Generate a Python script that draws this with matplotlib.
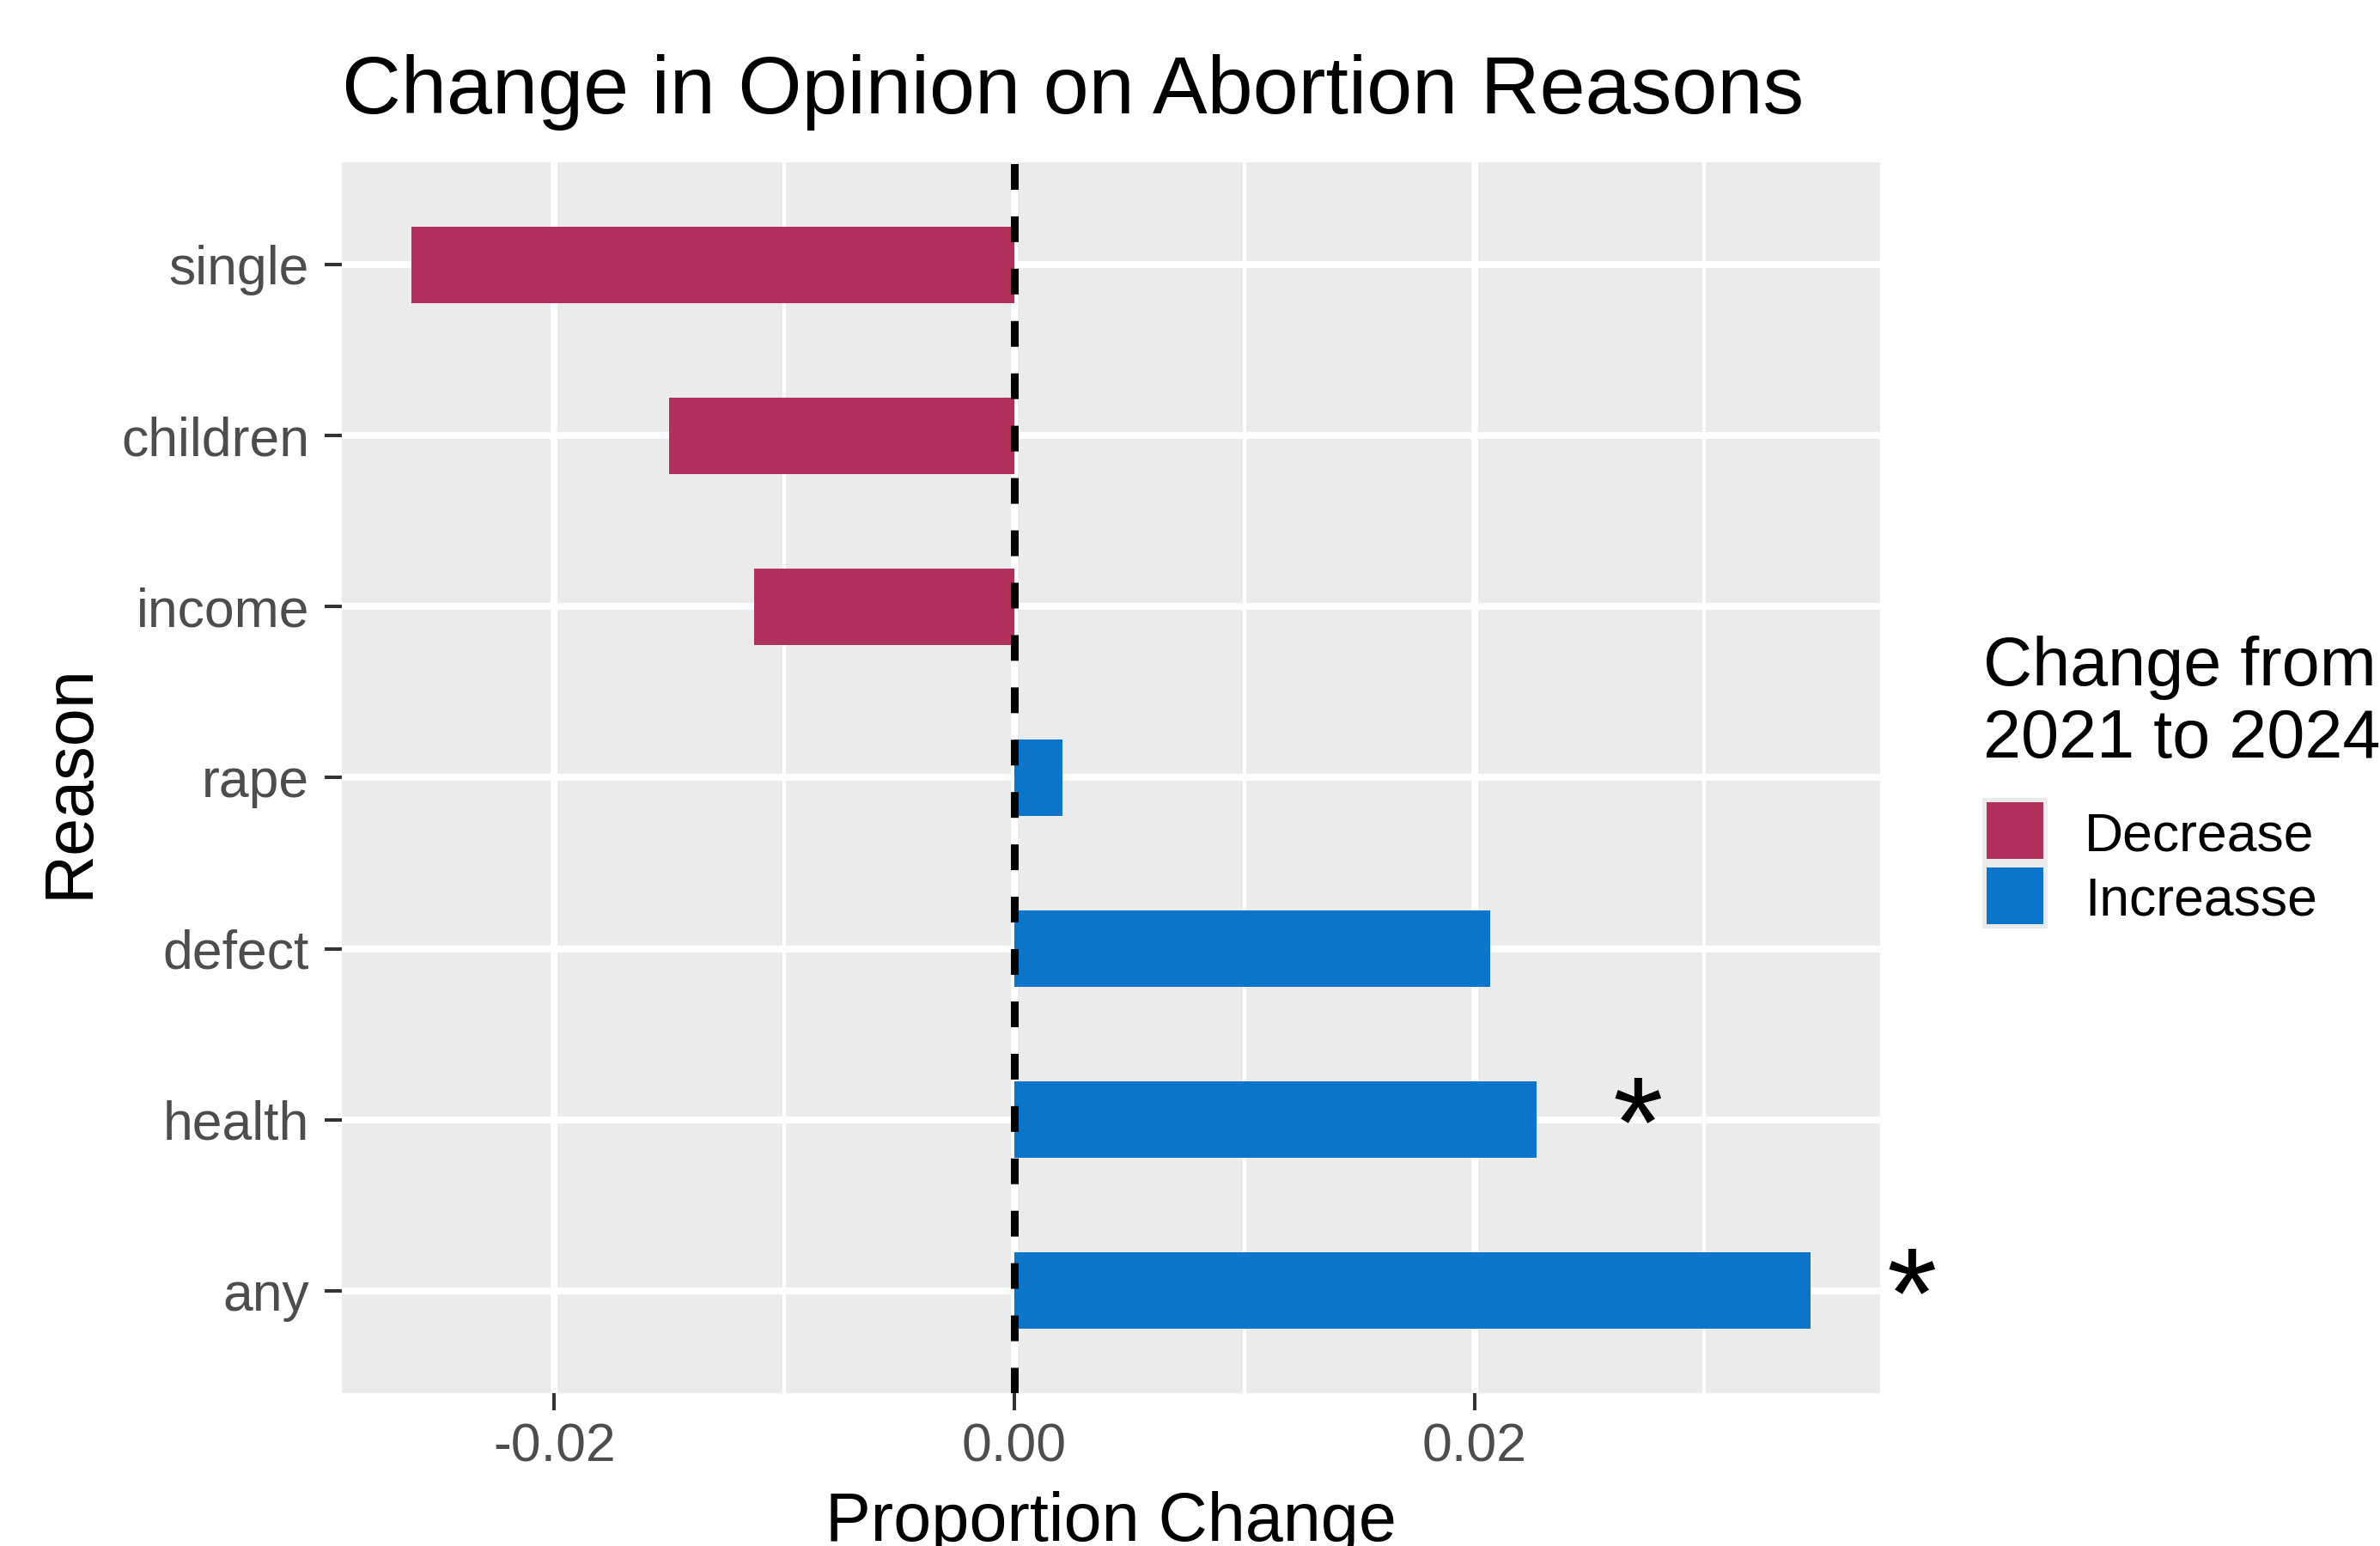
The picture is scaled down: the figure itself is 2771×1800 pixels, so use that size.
"""
Change in Opinion on Abortion Reasons
Horizontal bar chart in a ggplot-like grey theme.
"""

import numpy as np
import matplotlib
matplotlib.use("Agg")
import matplotlib.pyplot as plt
import matplotlib.patches as mpatches

plt.rcParams["font.family"] = ["Liberation Sans", "DejaVu Sans"]

# --- DATA ---
REASONS = ["any", "health", "defect", "rape", "income", "children", "single"]
CHANGE = [0.0346, 0.0227, 0.0207, 0.0021, -0.0113, -0.0150, -0.0262]
SIGNIF = [True, True, False, False, False, False, False]
X_TICKS = [-0.02, 0.00, 0.02]
X_TICK_LABELS = ["-0.02", "0.00", "0.02"]
X_MINOR = [-0.01, 0.01, 0.03]
LEGEND_LABELS = ["Decrease", "Increasse"]

# --- STYLE ---
COL_DEC = "#B2305E"
COL_INC = "#0B75C9"
PANEL = "#EBEBEB"
TXT_AXIS = "#4D4D4D"
TICK_C = "#333333"

W, H = 2771, 1800
fig = plt.figure(figsize=(W / 100, H / 100), dpi=100)
fig.patch.set_facecolor("white")

ax = fig.add_axes([398 / W, 1 - 1622 / H, (2189 - 398) / W, (1622 - 189) / H])
ax.set_facecolor(PANEL)
for s in ax.spines.values():
    s.set_visible(False)

ypos = np.arange(1, len(REASONS) + 1)
colors = [COL_INC if v > 0 else COL_DEC for v in CHANGE]

# grid (ggplot style: major + minor)
for x in X_MINOR:
    ax.axvline(x, color="white", lw=2.9, zorder=1)
for x in X_TICKS:
    ax.axvline(x, color="white", lw=5.8, zorder=1)
for y in ypos:
    ax.axhline(y, color="white", lw=5.8, zorder=1)

ax.barh(ypos, CHANGE, height=0.45, color=colors, edgecolor="none", zorder=2)

# dashed zero line
ax.axvline(0, color="black", lw=6.5, linestyle=(0, (3.32, 3.43)), zorder=3)

# significance stars
for y, v, sg in zip(ypos, CHANGE, SIGNIF):
    if sg:
        ax.text(v + 0.0044, y - 0.08, "*", fontsize=108, ha="center",
                va="center", color="black", zorder=4, clip_on=False)

# limits with ggplot-like expansion
lo, hi = min(CHANGE), max(CHANGE)
pad = (hi - lo) * 0.05
ax.set_xlim(lo - pad, hi + pad)
ax.set_ylim(0.4, len(REASONS) + 0.6)

ax.set_xticks(X_TICKS)
ax.set_xticklabels(X_TICK_LABELS)
ax.set_yticks(ypos)
ax.set_yticklabels(REASONS)
ax.tick_params(axis="both", colors=TICK_C, width=2.9, length=14.4,
               labelsize=45, labelcolor=TXT_AXIS)
ax.tick_params(axis="x", pad=10)
ax.tick_params(axis="y", pad=13)

# axis titles
fig.text((398 + 2189) / 2 / W, 1 - 1794 / H, "Proportion Change",
         fontsize=57, ha="center", va="baseline", color="black")
fig.text(103 / W, 1 - 910 / H, "Reason", fontsize=57, rotation=90,
         ha="center", va="baseline", rotation_mode="anchor", color="black")
# title
fig.text(398 / W, 1 - 132 / H, "Change in Opinion on Abortion Reasons",
         fontsize=68.7, ha="left", va="baseline", color="black")

# --- legend (manual) ---
fig.text(2309 / W, 1 - 798 / H, "Change from", fontsize=57, ha="left",
         va="baseline")
fig.text(2309 / W, 1 - 882 / H, "2021 to 2024", fontsize=57, ha="left",
         va="baseline")
fig.patches.append(mpatches.Rectangle((2308 / W, 1 - 1081 / H), 76 / W,
                                      152 / H, transform=fig.transFigure,
                                      facecolor=PANEL, edgecolor="none"))
key_tops = [934, 1010]
key_base = [990, 1066]
for lbl, col, top, base in zip(LEGEND_LABELS, [COL_DEC, COL_INC], key_tops,
                               key_base):
    fig.patches.append(mpatches.Rectangle((2313 / W, 1 - (top + 66) / H),
                                          66 / W, 66 / H,
                                          transform=fig.transFigure,
                                          facecolor=col, edgecolor="none"))
    fig.text(2427 / W, 1 - base / H, lbl, fontsize=45, ha="left",
             va="baseline", color="black")

fig.savefig("out.png", dpi=100)
